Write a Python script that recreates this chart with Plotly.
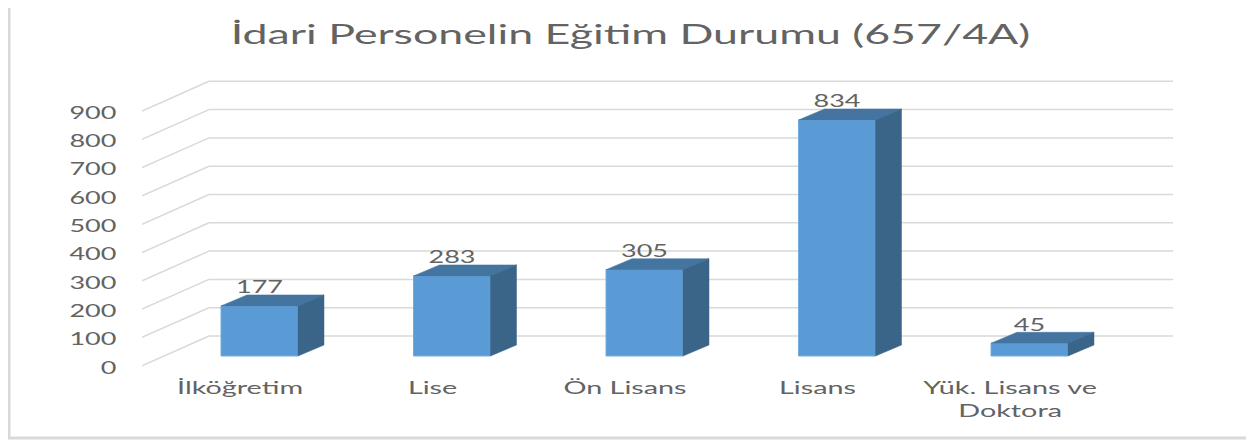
#!/usr/bin/env python3
"""İdari personel eğitim durumu: Excel tarzı sahte 3B sütun grafiği."""
import plotly.graph_objects as go

categories = ["İlköğretim", "Lise", "Ön Lisans", "Lisans", "Yük. Lisans ve<br>Doktora"]
values = [177, 283, 305, 834, 45]
y_ticks = [0, 100, 200, 300, 400, 500, 600, 700, 800, 900]
title = "İdari Personelin Eğitim Durumu (657/4A)"

FONT = "Lato"
TEXT = "#636363"
GRID = "#D9D9D9"
FRONT, TOP, SIDE = "#5B9BD5", "#4375A0", "#3A6488"

# sayfa govdesinin 8px boslugu yuzunden figur 8px iceriden baslar
PAGE = 8
W, H = 1254 - PAGE, 440 - PAGE
L, R, T, B = 142 - PAGE, 81, 60 - PAGE, 70   # plot alani kenar bosluklari
PX_X = 192.5    # kategori basina piksel
PX_Y = 0.283    # deger birimi basina piksel

# derinlik: sutun derinligi ve arka duvara olan uzaklik, eksen biriminde
BAR_DX, BAR_DY = 26 / PX_X, 11 / PX_Y
BACK_DX, BACK_DY = 0.348, 20 / PX_Y
FRONT_DY = -9.7 / PX_Y
LABEL_DX = -0.101
BAR_WIDTH = 77 / PX_X

pos = list(range(len(categories)))
fig = go.Figure()

fig.add_trace(go.Bar(x=pos, y=values, width=BAR_WIDTH,
                     marker=dict(color=FRONT, line=dict(color="#74ABDD", width=1)),
                     showlegend=False, hoverinfo="skip"))

# ust ve yan yuzler
for p, v in zip(pos, values):
    x0, x1 = p - BAR_WIDTH / 2, p + BAR_WIDTH / 2
    fig.add_trace(go.Scatter(x=[x0, x0 + BAR_DX, x1 + BAR_DX, x1, x0],
                             y=[v, v + BAR_DY, v + BAR_DY, v, v],
                             mode="lines", fill="toself", fillcolor=TOP,
                             line=dict(color=TOP, width=0.5), showlegend=False, hoverinfo="skip"))
    fig.add_trace(go.Scatter(x=[x1, x1 + BAR_DX, x1 + BAR_DX, x1, x1],
                             y=[v, v + BAR_DY, BAR_DY, 0, v],
                             mode="lines", fill="toself", fillcolor=SIDE,
                             line=dict(color=SIDE, width=0.5), showlegend=False, hoverinfo="skip"))

fig.add_trace(go.Scatter(x=pos, y=[v + BAR_DY - 3 / PX_Y for v in values], mode="text",
                         text=[str(v) for v in values], textposition="top center",
                         textfont=dict(family=FONT, size=18, color=TEXT),
                         showlegend=False, hoverinfo="skip"))

x_left = -(259.5 - 142) / PX_X
x_back = x_left + BACK_DX
x_right = (1173 - 259.5) / PX_X
grid = dict(type="line", xref="x", yref="y", layer="below", line=dict(color=GRID, width=1.5))
for t in y_ticks:
    fig.add_shape(x0=x_left, x1=x_back, y0=t + FRONT_DY, y1=t + BACK_DY, **grid)
    fig.add_shape(x0=x_back, x1=x_right, y0=t + BACK_DY, y1=t + BACK_DY, **grid)

# cerceve
plot_w, plot_h = W - L - R, H - T - B
fig.add_shape(type="rect", xref="paper", yref="paper", layer="below",
              x0=(9 - PAGE - L) / plot_w, x1=(1249.5 - PAGE - L) / plot_w,
              y0=(H - B - (438 - PAGE)) / plot_h, y1=(H - B - (1 - PAGE)) / plot_h,
              line=dict(color=GRID, width=3))

fig.update_layout(
    width=W, height=H,
    margin=dict(l=L, r=R, t=T, b=B, pad=0),
    paper_bgcolor="white", plot_bgcolor="rgba(0,0,0,0)",
    font=dict(family=FONT, color=TEXT),
    title=dict(text=title, x=(630.5 - PAGE) / W, xanchor="center", y=1 - (34.5 - PAGE) / H, yanchor="middle",
               font=dict(family=FONT, size=27, color=TEXT)),
    xaxis=dict(range=[x_left, x_right], tickmode="array",
               tickvals=[p + LABEL_DX for p in pos], ticktext=categories,
               showgrid=False, zeroline=False, showline=False,
               ticks="outside", ticklen=1, tickcolor="rgba(0,0,0,0)",
               tickfont=dict(family=FONT, size=18, color=TEXT)),
    yaxis=dict(range=[(356 - 370) / PX_Y, (356 - 60) / PX_Y], tickmode="array",
               tickvals=[t + FRONT_DY - 1.5 / PX_Y for t in y_ticks], ticktext=[str(t) for t in y_ticks],
               showgrid=False, zeroline=False, showline=False,
               ticks="outside", ticklen=21, tickcolor="rgba(0,0,0,0)",
               tickfont=dict(family=FONT, size=18, color=TEXT)),
)

# orijinal resim yatayda gerilmis; yazilari da ayni sekilde ger
stretch_js = """
function stretch(sel, k, right) {
  document.querySelectorAll(sel).forEach(function (el) {
    var b = el.getBBox();
    var cx = right ? b.x + b.width : b.x + b.width / 2;
    var old = el.getAttribute('transform') || '';
    el.setAttribute('transform', old + ' translate(' + cx + ' 0) scale(' + k + ' 1) translate(' + (-cx) + ' 0)');
  });
}
stretch('.gtitle', 1.656, false);
stretch('.xtick text', 1.6, false);
stretch('.ytick text', 1.5, true);
stretch('.textpoint text', 1.5, false);
"""

fig.write_html("out.html", post_script=stretch_js)
